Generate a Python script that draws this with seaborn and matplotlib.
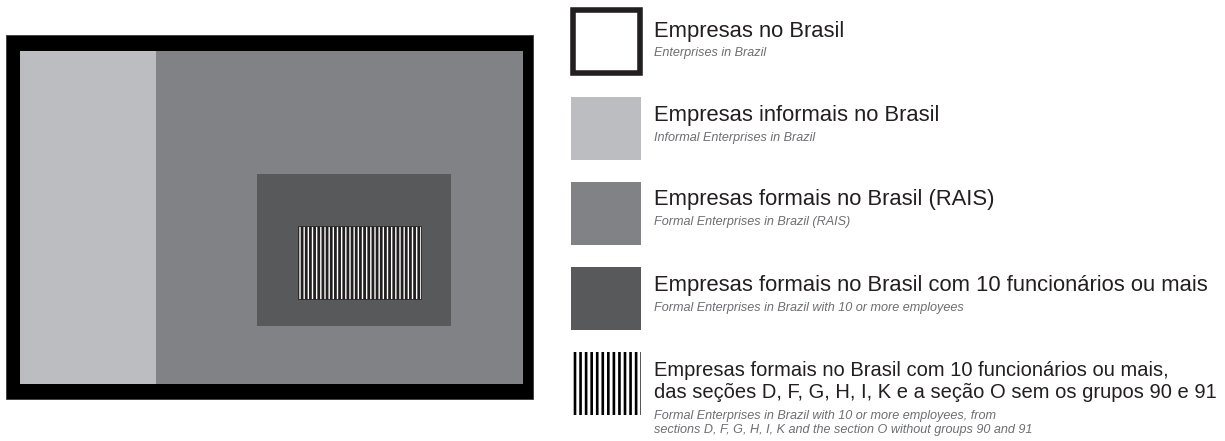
import matplotlib
matplotlib.use("Agg")
import matplotlib.pyplot as plt
import seaborn as sns

# nested blocks of the diagram (left, right, top, bottom in picture units)
labels_pt = [
    "Empresas no Brasil",
    "Empresas informais no Brasil",
    "Empresas formais no Brasil (RAIS)",
    "Empresas formais no Brasil com 10 funcionários ou mais",
    "Empresas formais no Brasil com 10 funcionários ou mais,\n"
    "das seções D, F, G, H, I, K e a seção O sem os grupos 90 e 91",
]
labels_en = [
    "Enterprises in Brazil",
    "Informal Enterprises in Brazil",
    "Formal Enterprises in Brazil (RAIS)",
    "Formal Enterprises in Brazil with 10 or more employees",
    "Formal Enterprises in Brazil with 10 or more employees, from\n"
    "sections D, F, G, H, I, K and the section O without groups 90 and 91",
]
block_left = [6, 20, 156, 257, 298]
block_right = [533, 156, 523, 451, 421]
block_top = [35, 51, 51, 174, 226]
block_bottom = [399, 384, 384, 326, 299]

sns.set_theme(style="white")
plt.rcParams["font.family"] = ["Liberation Sans", "DejaVu Sans"]
plt.rcParams["hatch.linewidth"] = 2.0

fills = ["#000000", "#BCBDC1", "#818286", "#58595B", "white"]
edges = ["#3a3839", "none", "none", "none", "#231F20"]
hatches = [None, None, None, None, "||||"]

fig = plt.figure(figsize=(12.25, 4.41), dpi=100)
ax = fig.add_axes([0, 0, 1, 1])
ax.set_xlim(0, 1225)
ax.set_ylim(441, 0)
ax.axis("off")

for i in range(len(labels_pt)):
    ax.bar(block_left[i], block_bottom[i] - block_top[i],
           width=block_right[i] - block_left[i], bottom=block_top[i],
           align="edge", color=fills[i], edgecolor=edges[i],
           linewidth=0.6 if edges[i] != "none" else 0,
           hatch=hatches[i], zorder=2 + i)

# legend
sw_left, sw_w, sw_h = 571, 70, 63
sw_top = [8, 97, 182, 267, 352]
sw_fill = ["white", "#BCBDC1", "#818286", "#58595B", "white"]
title_y = [31, 116, 200, 286, 382]
title_size = [15.8, 15.8, 15.8, 15.8, 14.5]
sub_y = [53, 138, 222, 308, 423]

plt.rcParams["hatch.linewidth"] = 1.9
for i in range(len(labels_pt)):
    t = sw_top[i]
    if i == 0:
        ax.bar(sw_left + 1.5, sw_h, width=sw_w - 3, bottom=t + 1.5, align="edge",
               color="white", edgecolor="#231F20", linewidth=4.0)
    elif i == 4:
        ax.bar(sw_left, sw_h, width=sw_w, bottom=t, align="edge",
               color="white", edgecolor="#000000", linewidth=0, hatch="|||")
    else:
        ax.bar(sw_left, sw_h, width=sw_w, bottom=t, align="edge",
               color=sw_fill[i], linewidth=0)
    ax.text(654, title_y[i], labels_pt[i], fontsize=title_size[i], color="#231F20",
            va="center", ha="left", linespacing=1.2)
    ax.text(654, sub_y[i], labels_en[i], fontsize=9.1, color="#6D6E71",
            style="italic", va="center", ha="left", linespacing=1.3)

fig.savefig("out.png", dpi=100)
